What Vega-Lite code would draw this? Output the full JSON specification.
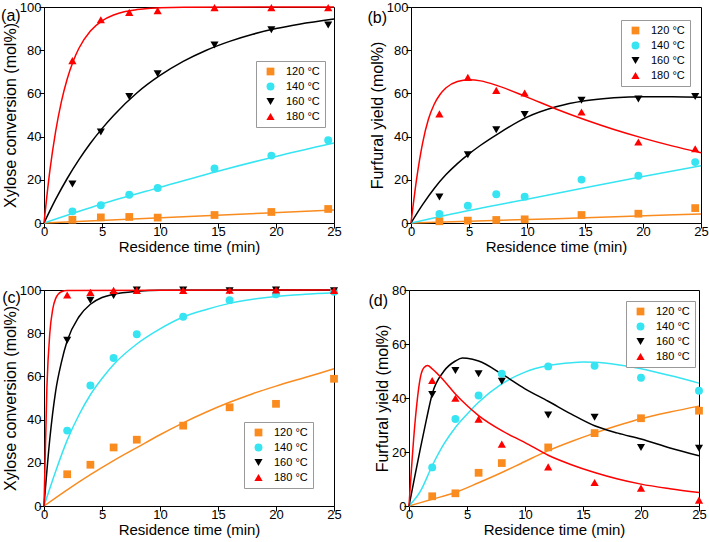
{
  "$schema": "https://vega.github.io/schema/vega-lite/v6.json",
  "padding": {"left": 0, "top": 0, "right": 0, "bottom": 0},
  "background": "white",
  "config": {
    "font": "Liberation Sans",
    "view": {"stroke": "#000", "strokeWidth": 1},
    "axis": {"grid": false, "domainColor": "#000", "tickColor": "#000", "labelColor": "#000", "titleColor": "#000", "labelFont": "Liberation Sans", "titleFont": "Liberation Sans", "labelFontSize": 13, "titleFontSize": 15, "titleFontWeight": "normal"},
    "axisY": {"titleFontSize": 16},
    "legend": {"strokeColor": "#999", "fillColor": "#fff", "padding": 5, "symbolOffset": 4, "labelOffset": 10, "rowPadding": 3, "labelFontSize": 11, "labelFont": "Liberation Sans", "labelColor": "#000", "symbolStrokeWidth": 0}
  },
  "datasets": {
    "pts": [
      {"p":"a","T":"120 °C","t":2.45,"v":1.5},{"p":"a","T":"120 °C","t":4.9,"v":2.6},{"p":"a","T":"120 °C","t":7.35,"v":2.8},{"p":"a","T":"120 °C","t":9.8,"v":2.5},{"p":"a","T":"120 °C","t":14.7,"v":3.7},{"p":"a","T":"120 °C","t":19.6,"v":5.1},{"p":"a","T":"120 °C","t":24.5,"v":6.5},
      {"p":"a","T":"140 °C","t":2.45,"v":5.4},{"p":"a","T":"140 °C","t":4.9,"v":8.2},{"p":"a","T":"140 °C","t":7.35,"v":13.1},{"p":"a","T":"140 °C","t":9.8,"v":16.2},{"p":"a","T":"140 °C","t":14.7,"v":25.2},{"p":"a","T":"140 °C","t":19.6,"v":31.2},{"p":"a","T":"140 °C","t":24.5,"v":38.3},
      {"p":"a","T":"160 °C","t":2.45,"v":18},{"p":"a","T":"160 °C","t":4.9,"v":42.1},{"p":"a","T":"160 °C","t":7.35,"v":58.6},{"p":"a","T":"160 °C","t":9.8,"v":69.1},{"p":"a","T":"160 °C","t":14.7,"v":82.4},{"p":"a","T":"160 °C","t":19.6,"v":89.5},{"p":"a","T":"160 °C","t":24.5,"v":91.7},
      {"p":"a","T":"180 °C","t":2.45,"v":75.2},{"p":"a","T":"180 °C","t":4.9,"v":94.1},{"p":"a","T":"180 °C","t":7.35,"v":97.5},{"p":"a","T":"180 °C","t":9.8,"v":98.3},{"p":"a","T":"180 °C","t":14.7,"v":99.7},{"p":"a","T":"180 °C","t":19.6,"v":99.7},{"p":"a","T":"180 °C","t":24.5,"v":99.7},
      {"p":"b","T":"120 °C","t":2.45,"v":0.8},{"p":"b","T":"120 °C","t":4.9,"v":1.1},{"p":"b","T":"120 °C","t":7.35,"v":1.4},{"p":"b","T":"120 °C","t":9.8,"v":1.7},{"p":"b","T":"120 °C","t":14.7,"v":3.7},{"p":"b","T":"120 °C","t":19.6,"v":4.3},{"p":"b","T":"120 °C","t":24.5,"v":6.9},
      {"p":"b","T":"140 °C","t":2.45,"v":4.2},{"p":"b","T":"140 °C","t":4.9,"v":8},{"p":"b","T":"140 °C","t":7.35,"v":13.3},{"p":"b","T":"140 °C","t":9.8,"v":12.2},{"p":"b","T":"140 °C","t":14.7,"v":20.1},{"p":"b","T":"140 °C","t":19.6,"v":21.9},{"p":"b","T":"140 °C","t":24.5,"v":28.2},
      {"p":"b","T":"160 °C","t":2.45,"v":12},{"p":"b","T":"160 °C","t":4.9,"v":31.6},{"p":"b","T":"160 °C","t":7.35,"v":43.2},{"p":"b","T":"160 °C","t":9.8,"v":50.2},{"p":"b","T":"160 °C","t":14.7,"v":56.8},{"p":"b","T":"160 °C","t":19.6,"v":57.4},{"p":"b","T":"160 °C","t":24.5,"v":58.6},
      {"p":"b","T":"180 °C","t":2.45,"v":50.5},{"p":"b","T":"180 °C","t":4.9,"v":67.4},{"p":"b","T":"180 °C","t":7.35,"v":61.4},{"p":"b","T":"180 °C","t":9.8,"v":60.2},{"p":"b","T":"180 °C","t":14.7,"v":51.4},{"p":"b","T":"180 °C","t":19.6,"v":37.5},{"p":"b","T":"180 °C","t":24.5,"v":34.4},
      {"p":"c","T":"120 °C","t":2,"v":14.7},{"p":"c","T":"120 °C","t":4,"v":19.1},{"p":"c","T":"120 °C","t":6,"v":27.1},{"p":"c","T":"120 °C","t":8,"v":30.7},{"p":"c","T":"120 °C","t":12,"v":37.2},{"p":"c","T":"120 °C","t":16,"v":45.7},{"p":"c","T":"120 °C","t":20,"v":47.3},{"p":"c","T":"120 °C","t":25,"v":58.9},
      {"p":"c","T":"140 °C","t":2,"v":34.9},{"p":"c","T":"140 °C","t":4,"v":55.8},{"p":"c","T":"140 °C","t":6,"v":68.5},{"p":"c","T":"140 °C","t":8,"v":79.5},{"p":"c","T":"140 °C","t":12,"v":87.6},{"p":"c","T":"140 °C","t":16,"v":95.3},{"p":"c","T":"140 °C","t":20,"v":98},{"p":"c","T":"140 °C","t":25,"v":99.2},
      {"p":"c","T":"160 °C","t":2,"v":76.7},{"p":"c","T":"160 °C","t":4,"v":95.3},{"p":"c","T":"160 °C","t":6,"v":97.4},{"p":"c","T":"160 °C","t":8,"v":100},{"p":"c","T":"160 °C","t":12,"v":100},{"p":"c","T":"160 °C","t":16,"v":99.7},{"p":"c","T":"160 °C","t":20,"v":100},{"p":"c","T":"160 °C","t":25,"v":99.7},
      {"p":"c","T":"180 °C","t":2,"v":97.7},{"p":"c","T":"180 °C","t":4,"v":98.9},{"p":"c","T":"180 °C","t":6,"v":99.8},{"p":"c","T":"180 °C","t":8,"v":99.8},{"p":"c","T":"180 °C","t":12,"v":99.8},{"p":"c","T":"180 °C","t":16,"v":99.9},{"p":"c","T":"180 °C","t":20,"v":100},{"p":"c","T":"180 °C","t":25,"v":99.8},
      {"p":"d","T":"120 °C","t":2,"v":3.6},{"p":"d","T":"120 °C","t":4,"v":4.7},{"p":"d","T":"120 °C","t":6,"v":12.3},{"p":"d","T":"120 °C","t":8,"v":15.9},{"p":"d","T":"120 °C","t":12,"v":21.7},{"p":"d","T":"120 °C","t":16,"v":27},{"p":"d","T":"120 °C","t":20,"v":32.5},{"p":"d","T":"120 °C","t":25,"v":35.3},
      {"p":"d","T":"140 °C","t":2,"v":14.3},{"p":"d","T":"140 °C","t":4,"v":32.2},{"p":"d","T":"140 °C","t":6,"v":40.9},{"p":"d","T":"140 °C","t":8,"v":49},{"p":"d","T":"140 °C","t":12,"v":51.7},{"p":"d","T":"140 °C","t":16,"v":51.9},{"p":"d","T":"140 °C","t":20,"v":47.5},{"p":"d","T":"140 °C","t":25,"v":42.7},
      {"p":"d","T":"160 °C","t":2,"v":41.3},{"p":"d","T":"160 °C","t":4,"v":50.2},{"p":"d","T":"160 °C","t":6,"v":49},{"p":"d","T":"160 °C","t":8,"v":46.2},{"p":"d","T":"160 °C","t":12,"v":33.7},{"p":"d","T":"160 °C","t":16,"v":32.9},{"p":"d","T":"160 °C","t":20,"v":21.7},{"p":"d","T":"160 °C","t":25,"v":21.4},
      {"p":"d","T":"180 °C","t":2,"v":46.5},{"p":"d","T":"180 °C","t":4,"v":39.9},{"p":"d","T":"180 °C","t":6,"v":32.2},{"p":"d","T":"180 °C","t":8,"v":22.9},{"p":"d","T":"180 °C","t":12,"v":14.5},{"p":"d","T":"180 °C","t":16,"v":8.7},{"p":"d","T":"180 °C","t":20,"v":6.6},{"p":"d","T":"180 °C","t":25,"v":2.2}
    ],
    "fit": [
      {"p":"a","T":"120 °C","t":0,"v":0},{"p":"a","T":"120 °C","t":12.5,"v":3},{"p":"a","T":"120 °C","t":25,"v":6},
      {"p":"a","T":"140 °C","t":0,"v":0},{"p":"a","T":"140 °C","t":5,"v":8.8},{"p":"a","T":"140 °C","t":10,"v":16.5},{"p":"a","T":"140 °C","t":15,"v":24},{"p":"a","T":"140 °C","t":20,"v":30.8},{"p":"a","T":"140 °C","t":25,"v":37},
      {"p":"a","T":"160 °C","t":0,"v":0},{"p":"a","T":"160 °C","t":1,"v":10.9},{"p":"a","T":"160 °C","t":2,"v":20.6},{"p":"a","T":"160 °C","t":3,"v":29.2},{"p":"a","T":"160 °C","t":4,"v":36.9},{"p":"a","T":"160 °C","t":5,"v":43.7},{"p":"a","T":"160 °C","t":6,"v":49.8},{"p":"a","T":"160 °C","t":8,"v":60.2},{"p":"a","T":"160 °C","t":10,"v":68.3},{"p":"a","T":"160 °C","t":12,"v":74.8},{"p":"a","T":"160 °C","t":14,"v":80},{"p":"a","T":"160 °C","t":16,"v":84.1},{"p":"a","T":"160 °C","t":18,"v":87.4},{"p":"a","T":"160 °C","t":20,"v":90},{"p":"a","T":"160 °C","t":22,"v":92},{"p":"a","T":"160 °C","t":25,"v":94.4},
      {"p":"a","T":"180 °C","t":0,"v":0},{"p":"a","T":"180 °C","t":0.5,"v":24},{"p":"a","T":"180 °C","t":1,"v":42.3},{"p":"a","T":"180 °C","t":1.5,"v":56.2},{"p":"a","T":"180 °C","t":2,"v":66.7},{"p":"a","T":"180 °C","t":2.5,"v":74.7},{"p":"a","T":"180 °C","t":3,"v":80.8},{"p":"a","T":"180 °C","t":4,"v":88.9},{"p":"a","T":"180 °C","t":5,"v":93.6},{"p":"a","T":"180 °C","t":6,"v":96.3},{"p":"a","T":"180 °C","t":7,"v":97.9},{"p":"a","T":"180 °C","t":8,"v":98.8},{"p":"a","T":"180 °C","t":10,"v":99.6},{"p":"a","T":"180 °C","t":12,"v":99.9},{"p":"a","T":"180 °C","t":25,"v":100},
      {"p":"b","T":"120 °C","t":0,"v":0},{"p":"b","T":"120 °C","t":12.5,"v":2},{"p":"b","T":"120 °C","t":25,"v":4.2},
      {"p":"b","T":"140 °C","t":0,"v":0},{"p":"b","T":"140 °C","t":5,"v":5.8},{"p":"b","T":"140 °C","t":10,"v":11},{"p":"b","T":"140 °C","t":15,"v":16.3},{"p":"b","T":"140 °C","t":20,"v":21.5},{"p":"b","T":"140 °C","t":25,"v":26.5},
      {"p":"b","T":"160 °C","t":0,"v":0},{"p":"b","T":"160 °C","t":1,"v":8.5},{"p":"b","T":"160 °C","t":2,"v":16},{"p":"b","T":"160 °C","t":3,"v":22.3},{"p":"b","T":"160 °C","t":4,"v":27.5},{"p":"b","T":"160 °C","t":5,"v":32},{"p":"b","T":"160 °C","t":6,"v":36},{"p":"b","T":"160 °C","t":7.5,"v":41.3},{"p":"b","T":"160 °C","t":10,"v":49},{"p":"b","T":"160 °C","t":12.5,"v":53.8},{"p":"b","T":"160 °C","t":15,"v":56.6},{"p":"b","T":"160 °C","t":17.5,"v":58},{"p":"b","T":"160 °C","t":20,"v":58.5},{"p":"b","T":"160 °C","t":22.5,"v":58.5},{"p":"b","T":"160 °C","t":25,"v":58.2},
      {"p":"b","T":"180 °C","t":0,"v":0},{"p":"b","T":"180 °C","t":0.5,"v":21},{"p":"b","T":"180 °C","t":1,"v":37},{"p":"b","T":"180 °C","t":1.5,"v":48},{"p":"b","T":"180 °C","t":2,"v":55},{"p":"b","T":"180 °C","t":2.5,"v":59.5},{"p":"b","T":"180 °C","t":3,"v":62.5},{"p":"b","T":"180 °C","t":4,"v":65.5},{"p":"b","T":"180 °C","t":5,"v":66.3},{"p":"b","T":"180 °C","t":6,"v":65.8},{"p":"b","T":"180 °C","t":7.5,"v":63.5},{"p":"b","T":"180 °C","t":10,"v":58.3},{"p":"b","T":"180 °C","t":12.5,"v":52.8},{"p":"b","T":"180 °C","t":15,"v":47.8},{"p":"b","T":"180 °C","t":17.5,"v":43.3},{"p":"b","T":"180 °C","t":20,"v":39.3},{"p":"b","T":"180 °C","t":22.5,"v":35.7},{"p":"b","T":"180 °C","t":25,"v":32.5},
      {"p":"c","T":"120 °C","t":0,"v":0},{"p":"c","T":"120 °C","t":2,"v":7.5},{"p":"c","T":"120 °C","t":4,"v":14.5},{"p":"c","T":"120 °C","t":6,"v":21},{"p":"c","T":"120 °C","t":8,"v":27},{"p":"c","T":"120 °C","t":10,"v":33},{"p":"c","T":"120 °C","t":12,"v":38.5},{"p":"c","T":"120 °C","t":14,"v":43.5},{"p":"c","T":"120 °C","t":16,"v":48},{"p":"c","T":"120 °C","t":18,"v":52},{"p":"c","T":"120 °C","t":20,"v":55.5},{"p":"c","T":"120 °C","t":22.5,"v":59.5},{"p":"c","T":"120 °C","t":25,"v":63.5},
      {"p":"c","T":"140 °C","t":0,"v":0},{"p":"c","T":"140 °C","t":1,"v":16},{"p":"c","T":"140 °C","t":2,"v":30.5},{"p":"c","T":"140 °C","t":3,"v":42},{"p":"c","T":"140 °C","t":4,"v":51.5},{"p":"c","T":"140 °C","t":5,"v":59},{"p":"c","T":"140 °C","t":6,"v":65.5},{"p":"c","T":"140 °C","t":8,"v":75},{"p":"c","T":"140 °C","t":10,"v":82},{"p":"c","T":"140 °C","t":12,"v":87.5},{"p":"c","T":"140 °C","t":14,"v":91},{"p":"c","T":"140 °C","t":16,"v":93.8},{"p":"c","T":"140 °C","t":18,"v":95.7},{"p":"c","T":"140 °C","t":20,"v":97},{"p":"c","T":"140 °C","t":22.5,"v":98},{"p":"c","T":"140 °C","t":25,"v":98.7},
      {"p":"c","T":"160 °C","t":0,"v":0},{"p":"c","T":"160 °C","t":0.5,"v":31},{"p":"c","T":"160 °C","t":1,"v":53},{"p":"c","T":"160 °C","t":1.5,"v":66.5},{"p":"c","T":"160 °C","t":2,"v":76.5},{"p":"c","T":"160 °C","t":3,"v":87.5},{"p":"c","T":"160 °C","t":4,"v":93.4},{"p":"c","T":"160 °C","t":5,"v":96.5},{"p":"c","T":"160 °C","t":6,"v":98},{"p":"c","T":"160 °C","t":8,"v":99.4},{"p":"c","T":"160 °C","t":10,"v":99.9},{"p":"c","T":"160 °C","t":25,"v":100},
      {"p":"c","T":"180 °C","t":0,"v":0},{"p":"c","T":"180 °C","t":0.25,"v":55},{"p":"c","T":"180 °C","t":0.5,"v":80},{"p":"c","T":"180 °C","t":0.75,"v":91},{"p":"c","T":"180 °C","t":1,"v":96},{"p":"c","T":"180 °C","t":1.5,"v":99.2},{"p":"c","T":"180 °C","t":2,"v":99.8},{"p":"c","T":"180 °C","t":25,"v":100},
      {"p":"d","T":"120 °C","t":0,"v":0},{"p":"d","T":"120 °C","t":2,"v":2.5},{"p":"d","T":"120 °C","t":4,"v":5},{"p":"d","T":"120 °C","t":6,"v":8.6},{"p":"d","T":"120 °C","t":8,"v":12.4},{"p":"d","T":"120 °C","t":10,"v":16.5},{"p":"d","T":"120 °C","t":12,"v":20.5},{"p":"d","T":"120 °C","t":14,"v":23.9},{"p":"d","T":"120 °C","t":16,"v":27},{"p":"d","T":"120 °C","t":18,"v":29.8},{"p":"d","T":"120 °C","t":20,"v":32.3},{"p":"d","T":"120 °C","t":22.5,"v":34.8},{"p":"d","T":"120 °C","t":25,"v":37},
      {"p":"d","T":"140 °C","t":0,"v":0},{"p":"d","T":"140 °C","t":1,"v":5.6},{"p":"d","T":"140 °C","t":2,"v":14.9},{"p":"d","T":"140 °C","t":3,"v":22.9},{"p":"d","T":"140 °C","t":4,"v":29.1},{"p":"d","T":"140 °C","t":5,"v":34},{"p":"d","T":"140 °C","t":6,"v":38.4},{"p":"d","T":"140 °C","t":8,"v":45.2},{"p":"d","T":"140 °C","t":10,"v":49.6},{"p":"d","T":"140 °C","t":12,"v":52},{"p":"d","T":"140 °C","t":14,"v":53.1},{"p":"d","T":"140 °C","t":15,"v":53.3},{"p":"d","T":"140 °C","t":16,"v":53.2},{"p":"d","T":"140 °C","t":18,"v":52.3},{"p":"d","T":"140 °C","t":20,"v":50.8},{"p":"d","T":"140 °C","t":22.5,"v":48.3},{"p":"d","T":"140 °C","t":25,"v":45.5},
      {"p":"d","T":"160 °C","t":0,"v":0},{"p":"d","T":"160 °C","t":0.5,"v":11},{"p":"d","T":"160 °C","t":1,"v":21.7},{"p":"d","T":"160 °C","t":1.5,"v":32},{"p":"d","T":"160 °C","t":2,"v":41.5},{"p":"d","T":"160 °C","t":3,"v":49.9},{"p":"d","T":"160 °C","t":4,"v":53.7},{"p":"d","T":"160 °C","t":4.6,"v":54.8},{"p":"d","T":"160 °C","t":5,"v":54.7},{"p":"d","T":"160 °C","t":6,"v":53.7},{"p":"d","T":"160 °C","t":8,"v":48.9},{"p":"d","T":"160 °C","t":10,"v":43.4},{"p":"d","T":"160 °C","t":12,"v":38.8},{"p":"d","T":"160 °C","t":14,"v":34},{"p":"d","T":"160 °C","t":16,"v":29.7},{"p":"d","T":"160 °C","t":18,"v":27},{"p":"d","T":"160 °C","t":20,"v":24.8},{"p":"d","T":"160 °C","t":22.5,"v":21.5},{"p":"d","T":"160 °C","t":25,"v":18.6},
      {"p":"d","T":"180 °C","t":0,"v":0},{"p":"d","T":"180 °C","t":0.5,"v":30},{"p":"d","T":"180 °C","t":1,"v":48},{"p":"d","T":"180 °C","t":1.3,"v":51.3},{"p":"d","T":"180 °C","t":1.6,"v":52},{"p":"d","T":"180 °C","t":2,"v":50.8},{"p":"d","T":"180 °C","t":3,"v":46.5},{"p":"d","T":"180 °C","t":4,"v":41.5},{"p":"d","T":"180 °C","t":5,"v":37.2},{"p":"d","T":"180 °C","t":6,"v":33.5},{"p":"d","T":"180 °C","t":8,"v":27.9},{"p":"d","T":"180 °C","t":10,"v":23.5},{"p":"d","T":"180 °C","t":12,"v":18.8},{"p":"d","T":"180 °C","t":14,"v":15.3},{"p":"d","T":"180 °C","t":16,"v":12.4},{"p":"d","T":"180 °C","t":18,"v":10},{"p":"d","T":"180 °C","t":20,"v":8.1},{"p":"d","T":"180 °C","t":22.5,"v":6.4},{"p":"d","T":"180 °C","t":25,"v":5}
    ]
  },
  "spacing": 28,
  "resolve": {"scale": {"color": "independent", "shape": "independent", "size": "independent", "stroke": "independent"}, "legend": {"color": "independent", "shape": "independent", "size": "independent", "stroke": "independent"}},
  "vconcat": [
    {
      "spacing": 25,
      "resolve": {"scale": {"color": "independent", "shape": "independent", "size": "independent", "stroke": "independent"}, "legend": {"color": "independent", "shape": "independent", "size": "independent", "stroke": "independent"}},
      "hconcat": [
        {
          "width": 290, "height": 216,
          "layer": [
            {"data": {"name": "fit"}, "transform": [{"filter": "datum.p === 'a'"}], "mark": {"type": "line", "strokeWidth": 1.5, "interpolate": "monotone"},
             "encoding": {
               "x": {"field": "t", "type": "quantitative", "scale": {"domain": [0, 25], "nice": false}, "axis": {"title": "Residence time (min)", "values": [0,2.5,5,7.5,10,12.5,15,17.5,20,22.5,25], "labelExpr": "datum.value % 5 === 0 ? datum.label : ''", "labelOverlap": false, "labelFlush": false, "tickSize": 5, "labelPadding": -3, "titlePadding": 1, "encode": {"ticks": {"update": {"y2": {"signal": "datum.value % 5 === 0 ? -5 : -3"}}}}}},
               "y": {"field": "v", "type": "quantitative", "scale": {"domain": [0, 100], "nice": false}, "axis": {"title": "Xylose conversion (mol%)", "values": [0,10,20,30,40,50,60,70,80,90,100], "labelExpr": "datum.value % 20 === 0 ? datum.label : ''", "labelOverlap": false, "labelFlush": false, "tickSize": 5, "labelPadding": -2, "titlePadding": 1, "encode": {"ticks": {"update": {"x2": {"signal": "datum.value % 20 === 0 ? 5 : 3"}}}}}},
               "stroke": {"field": "T", "type": "nominal", "scale": {"range": ["#F98B1F","#36E4F2","#000000","#FF0000"]}, "legend": null}}},
            {"data": {"name": "pts"}, "transform": [{"filter": "datum.p === 'a'"}], "mark": {"type": "point", "filled": true, "opacity": 1},
             "encoding": {
               "x": {"field": "t", "type": "quantitative", "scale": {"domain": [0, 25], "nice": false}},
               "y": {"field": "v", "type": "quantitative", "scale": {"domain": [0, 100], "nice": false}},
               "color": {"field": "T", "type": "nominal", "scale": {"domain": ["120 °C","140 °C","160 °C","180 °C"], "range": ["#F98B1F","#36E4F2","#000000","#FF0000"]}, "legend": {"title": null, "orient": "none", "legendX": 212, "legendY": 54}},
               "shape": {"field": "T", "type": "nominal", "scale": {"domain": ["120 °C","140 °C","160 °C","180 °C"], "range": ["square","circle","triangle-down","triangle-up"]}, "legend": {"title": null, "orient": "none", "legendX": 212, "legendY": 54}},
               "size": {"field": "T", "type": "nominal", "scale": {"domain": ["120 °C","140 °C","160 °C","180 °C"], "range": [60, 68, 100, 100]}, "legend": {"title": null, "orient": "none", "legendX": 212, "legendY": 54}}
             }},
            {"data": {"values": [{}]}, "mark": {"type": "text", "align": "left", "baseline": "middle", "fontSize": 16, "font": "Liberation Sans", "color": "#000"},
             "encoding": {"x": {"datum": -3.7, "type": "quantitative", "scale": {"domain": [0, 25], "nice": false}}, "y": {"datum": 96, "type": "quantitative", "scale": {"domain": [0, 100], "nice": false}}, "text": {"value": "(a)"}}}
          ]
        },
        {
          "width": 290, "height": 216,
          "layer": [
            {"data": {"name": "fit"}, "transform": [{"filter": "datum.p === 'b'"}], "mark": {"type": "line", "strokeWidth": 1.5, "interpolate": "monotone"},
             "encoding": {
               "x": {"field": "t", "type": "quantitative", "scale": {"domain": [0, 25], "nice": false}, "axis": {"title": "Residence time (min)", "values": [0,2.5,5,7.5,10,12.5,15,17.5,20,22.5,25], "labelExpr": "datum.value % 5 === 0 ? datum.label : ''", "labelOverlap": false, "labelFlush": false, "tickSize": 5, "labelPadding": -3, "titlePadding": 1, "encode": {"ticks": {"update": {"y2": {"signal": "datum.value % 5 === 0 ? -5 : -3"}}}}}},
               "y": {"field": "v", "type": "quantitative", "scale": {"domain": [0, 100], "nice": false}, "axis": {"title": "Furfural yield (mol%)", "values": [0,10,20,30,40,50,60,70,80,90,100], "labelExpr": "datum.value % 20 === 0 ? datum.label : ''", "labelOverlap": false, "labelFlush": false, "tickSize": 5, "labelPadding": -2, "titlePadding": 1, "encode": {"ticks": {"update": {"x2": {"signal": "datum.value % 20 === 0 ? 5 : 3"}}}}}},
               "stroke": {"field": "T", "type": "nominal", "scale": {"range": ["#F98B1F","#36E4F2","#000000","#FF0000"]}, "legend": null}}},
            {"data": {"name": "pts"}, "transform": [{"filter": "datum.p === 'b'"}], "mark": {"type": "point", "filled": true, "opacity": 1},
             "encoding": {
               "x": {"field": "t", "type": "quantitative", "scale": {"domain": [0, 25], "nice": false}},
               "y": {"field": "v", "type": "quantitative", "scale": {"domain": [0, 100], "nice": false}},
               "color": {"field": "T", "type": "nominal", "scale": {"domain": ["120 °C","140 °C","160 °C","180 °C"], "range": ["#F98B1F","#36E4F2","#000000","#FF0000"]}, "legend": {"title": null, "orient": "none", "legendX": 210, "legendY": 13}},
               "shape": {"field": "T", "type": "nominal", "scale": {"domain": ["120 °C","140 °C","160 °C","180 °C"], "range": ["square","circle","triangle-down","triangle-up"]}, "legend": {"title": null, "orient": "none", "legendX": 210, "legendY": 13}},
               "size": {"field": "T", "type": "nominal", "scale": {"domain": ["120 °C","140 °C","160 °C","180 °C"], "range": [60, 68, 100, 100]}, "legend": {"title": null, "orient": "none", "legendX": 210, "legendY": 13}}
             }},
            {"data": {"values": [{}]}, "mark": {"type": "text", "align": "left", "baseline": "middle", "fontSize": 16, "font": "Liberation Sans", "color": "#000"},
             "encoding": {"x": {"datum": -3.75, "type": "quantitative", "scale": {"domain": [0, 25], "nice": false}}, "y": {"datum": 95, "type": "quantitative", "scale": {"domain": [0, 100], "nice": false}}, "text": {"value": "(b)"}}}
          ]
        }
      ]
    },
    {
      "spacing": 25,
      "resolve": {"scale": {"color": "independent", "shape": "independent", "size": "independent", "stroke": "independent"}, "legend": {"color": "independent", "shape": "independent", "size": "independent", "stroke": "independent"}},
      "hconcat": [
        {
          "width": 290, "height": 216,
          "layer": [
            {"data": {"name": "fit"}, "transform": [{"filter": "datum.p === 'c'"}], "mark": {"type": "line", "strokeWidth": 1.5, "interpolate": "monotone"},
             "encoding": {
               "x": {"field": "t", "type": "quantitative", "scale": {"domain": [0, 25], "nice": false}, "axis": {"title": "Residence time (min)", "values": [0,2.5,5,7.5,10,12.5,15,17.5,20,22.5,25], "labelExpr": "datum.value % 5 === 0 ? datum.label : ''", "labelOverlap": false, "labelFlush": false, "tickSize": 5, "labelPadding": -3, "titlePadding": 1, "encode": {"ticks": {"update": {"y2": {"signal": "datum.value % 5 === 0 ? -5 : -3"}}}}}},
               "y": {"field": "v", "type": "quantitative", "scale": {"domain": [0, 100], "nice": false}, "axis": {"title": "Xylose conversion (mol%)", "values": [0,10,20,30,40,50,60,70,80,90,100], "labelExpr": "datum.value % 20 === 0 ? datum.label : ''", "labelOverlap": false, "labelFlush": false, "tickSize": 5, "labelPadding": -2, "titlePadding": 1, "encode": {"ticks": {"update": {"x2": {"signal": "datum.value % 20 === 0 ? 5 : 3"}}}}}},
               "stroke": {"field": "T", "type": "nominal", "scale": {"range": ["#F98B1F","#36E4F2","#000000","#FF0000"]}, "legend": null}}},
            {"data": {"name": "pts"}, "transform": [{"filter": "datum.p === 'c'"}], "mark": {"type": "point", "filled": true, "opacity": 1},
             "encoding": {
               "x": {"field": "t", "type": "quantitative", "scale": {"domain": [0, 25], "nice": false}},
               "y": {"field": "v", "type": "quantitative", "scale": {"domain": [0, 100], "nice": false}},
               "color": {"field": "T", "type": "nominal", "scale": {"domain": ["120 °C","140 °C","160 °C","180 °C"], "range": ["#F98B1F","#36E4F2","#000000","#FF0000"]}, "legend": {"title": null, "orient": "none", "legendX": 200, "legendY": 132}},
               "shape": {"field": "T", "type": "nominal", "scale": {"domain": ["120 °C","140 °C","160 °C","180 °C"], "range": ["square","circle","triangle-down","triangle-up"]}, "legend": {"title": null, "orient": "none", "legendX": 200, "legendY": 132}},
               "size": {"field": "T", "type": "nominal", "scale": {"domain": ["120 °C","140 °C","160 °C","180 °C"], "range": [60, 68, 100, 100]}, "legend": {"title": null, "orient": "none", "legendX": 200, "legendY": 132}}
             }},
            {"data": {"values": [{}]}, "mark": {"type": "text", "align": "left", "baseline": "middle", "fontSize": 16, "font": "Liberation Sans", "color": "#000"},
             "encoding": {"x": {"datum": -3.6, "type": "quantitative", "scale": {"domain": [0, 25], "nice": false}}, "y": {"datum": 96.3, "type": "quantitative", "scale": {"domain": [0, 100], "nice": false}}, "text": {"value": "(c)"}}}
          ]
        },
        {
          "width": 290, "height": 216,
          "layer": [
            {"data": {"name": "fit"}, "transform": [{"filter": "datum.p === 'd'"}], "mark": {"type": "line", "strokeWidth": 1.5, "interpolate": "monotone"},
             "encoding": {
               "x": {"field": "t", "type": "quantitative", "scale": {"domain": [0, 25], "nice": false}, "axis": {"title": "Residence time (min)", "values": [0,2.5,5,7.5,10,12.5,15,17.5,20,22.5,25], "labelExpr": "datum.value % 5 === 0 ? datum.label : ''", "labelOverlap": false, "labelFlush": false, "tickSize": 5, "labelPadding": -3, "titlePadding": 1, "encode": {"ticks": {"update": {"y2": {"signal": "datum.value % 5 === 0 ? -5 : -3"}}}}}},
               "y": {"field": "v", "type": "quantitative", "scale": {"domain": [0, 80], "nice": false}, "axis": {"title": "Furfural yield (mol%)", "values": [0,10,20,30,40,50,60,70,80], "labelExpr": "datum.value % 20 === 0 ? datum.label : ''", "labelOverlap": false, "labelFlush": false, "tickSize": 5, "labelPadding": -2, "titlePadding": 1, "encode": {"ticks": {"update": {"x2": {"signal": "datum.value % 20 === 0 ? 5 : 3"}}}}}},
               "stroke": {"field": "T", "type": "nominal", "scale": {"range": ["#F98B1F","#36E4F2","#000000","#FF0000"]}, "legend": null}}},
            {"data": {"name": "pts"}, "transform": [{"filter": "datum.p === 'd'"}], "mark": {"type": "point", "filled": true, "opacity": 1},
             "encoding": {
               "x": {"field": "t", "type": "quantitative", "scale": {"domain": [0, 25], "nice": false}},
               "y": {"field": "v", "type": "quantitative", "scale": {"domain": [0, 80], "nice": false}},
               "color": {"field": "T", "type": "nominal", "scale": {"domain": ["120 °C","140 °C","160 °C","180 °C"], "range": ["#F98B1F","#36E4F2","#000000","#FF0000"]}, "legend": {"title": null, "orient": "none", "legendX": 217, "legendY": 11}},
               "shape": {"field": "T", "type": "nominal", "scale": {"domain": ["120 °C","140 °C","160 °C","180 °C"], "range": ["square","circle","triangle-down","triangle-up"]}, "legend": {"title": null, "orient": "none", "legendX": 217, "legendY": 11}},
               "size": {"field": "T", "type": "nominal", "scale": {"domain": ["120 °C","140 °C","160 °C","180 °C"], "range": [60, 68, 100, 100]}, "legend": {"title": null, "orient": "none", "legendX": 217, "legendY": 11}}
             }},
            {"data": {"values": [{}]}, "mark": {"type": "text", "align": "left", "baseline": "middle", "fontSize": 16, "font": "Liberation Sans", "color": "#000"},
             "encoding": {"x": {"datum": -3.5, "type": "quantitative", "scale": {"domain": [0, 25], "nice": false}}, "y": {"datum": 76, "type": "quantitative", "scale": {"domain": [0, 80], "nice": false}}, "text": {"value": "(d)"}}}
          ]
        }
      ]
    }
  ]
}
